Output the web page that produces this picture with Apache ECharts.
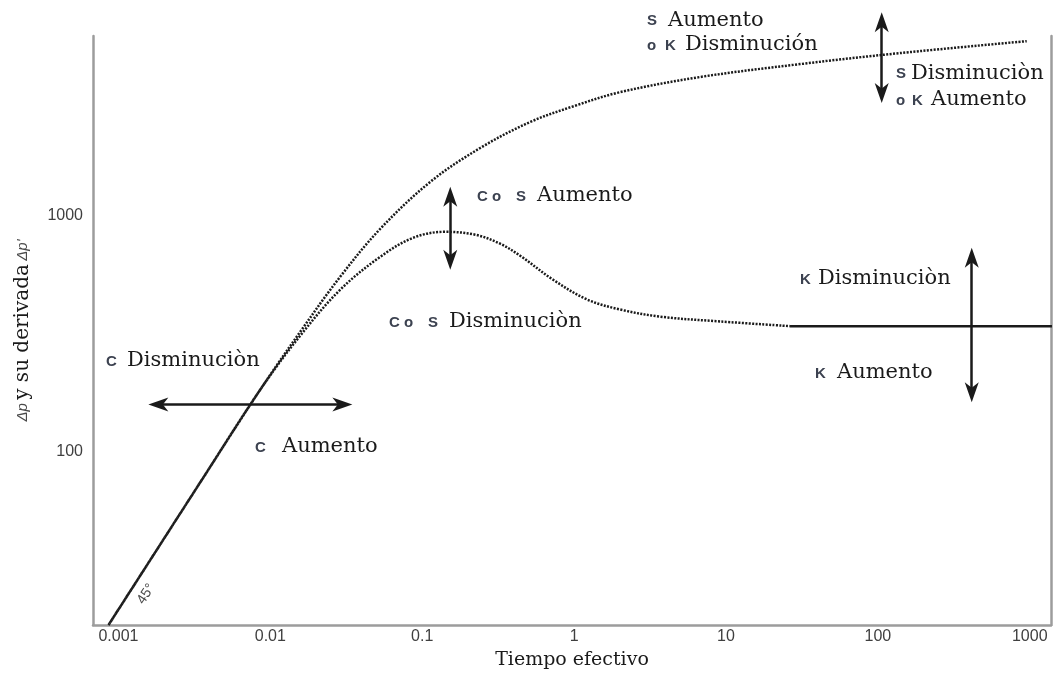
<!DOCTYPE html>
<html>
<head>
<meta charset="utf-8">
<script src="https://cdn.jsdelivr.net/npm/echarts@6/dist/echarts.min.js"></script>
<style>
  html, body { margin: 0; padding: 0; background: #ffffff; }
  #chart { width: 1054px; height: 675px; }
</style>
</head>
<body>
<div id="chart"></div>
<script>
// Log-log diagnostic plot: pressure change and its derivative versus effective time

// Axis ticks
const xTickValues = [0.001, 0.01, 0.1, 1, 10, 100, 1000];
const xTickLabels = ['0.001', '0.01', '0.1', '1', '10', '100', '1000'];
const yTickValues = [100, 1000];
const yTickLabels = ['100', '1000'];

// Axis ranges
const xRange = [0.00068, 1380];
const yRange = [18.3, 5800];

// Pressure change Δp
const pressureTime  = [0.00086, 0.00346, 0.0086, 0.01575, 0.0289, 0.053, 0.113, 0.241, 0.514, 1.0, 2.01, 6.74, 30.7, 139.6, 955];
const pressureValue = [18.3, 73.9, 183, 322, 552, 881, 1393, 1941, 2502, 2924, 3350, 3883, 4406, 4907, 5516];

// Pressure derivative Δp'
const derivTime  = [0.00086, 0.00346, 0.0086, 0.01575, 0.0289, 0.053, 0.0873, 0.141, 0.2233, 0.326, 0.441, 0.728, 1.22, 2.01, 3.68, 9.14, 26.4];
const derivValue = [18.3, 73.9, 183, 310, 486, 670, 807, 855, 831, 761, 677, 535, 441, 400, 373, 356, 340];

// Radial-flow plateau of the derivative
const plateauTime  = [26.4, 1400];
const plateauValue = [340, 340];

// Double-headed arrows (start and end of each shaft)
const arrowTimeA  = [0.001832, 0.153, 106, 415];
const arrowValueA = [158, 1205, 6637, 664];
const arrowTimeB  = [0.0298, 0.153, 106, 415];
const arrowValueB = [158, 651, 3320, 178];

const pairs = (xs, ys) => xs.map((x, i) => [x, ys[i]]);

function tickText(v, values, labels) {
  const lv = Math.log10(v);
  for (let i = 0; i < values.length; i++) {
    if (Math.abs(Math.log10(values[i]) - lv) < 1e-6) return labels[i];
  }
  return '';
}

const AXIS_COLOR = '#9c9c9c';
const INK = '#1a1a1a';
const SERIF = 'DejaVu Serif';
const SANS = 'Liberation Sans';
// slim arrowhead, padded to a square box so it keeps its proportions
const ARROW = 'path://M-10,0 M0,0 L7,20 L0,14.5 L-7,20 Z M10,20';

// Annotation words and the small parameter letters beside them
const words = [
  ['Aumento', 668, 21], ['Disminución', 685, 45],
  ['Disminuciòn', 911, 74], ['Aumento', 931, 100],
  ['Aumento', 537, 196], ['Disminuciòn', 449, 322],
  ['Disminuciòn', 127, 361], ['Aumento', 282, 447],
  ['Disminuciòn', 818, 279], ['Aumento', 837, 373]
];
const letters = [
  ['S', 647, 21], ['o', 647, 46], ['K', 665, 46],
  ['S', 896, 74], ['o', 896, 101], ['K', 912, 101],
  ['C o', 477, 197], ['S', 516, 197],
  ['C o', 389, 323], ['S', 428, 323],
  ['C', 106, 362], ['C', 255, 448],
  ['K', 800, 280], ['K', 815, 374]
];

const graphics = [];
words.forEach(([t, x, y]) => graphics.push({
  type: 'text', x, y, silent: true,
  style: { text: t, fontFamily: SERIF, fontSize: 21, fill: INK, verticalAlign: 'middle', align: 'left' }
}));
letters.forEach(([t, x, y]) => graphics.push({
  type: 'text', x, y, silent: true,
  style: { text: t, fontFamily: SANS, fontWeight: 'bold', fontSize: 15, fill: '#3c4250', verticalAlign: 'middle', align: 'left' }
}));
graphics.push({
  type: 'text', x: 146, y: 594, rotation: 0.99, silent: true,
  style: { text: '45°', fontFamily: SANS, fontSize: 14, fill: '#4a4a4a', align: 'center', verticalAlign: 'middle' }
});

const chart = echarts.init(document.getElementById('chart'), null, { renderer: 'canvas' });

const dotted = { color: INK, width: 2.5, type: [2, 1.4], cap: 'butt' };

chart.setOption({
  animation: false,
  backgroundColor: '#ffffff',
  grid: { left: 93, right: 3, top: 36, bottom: 49, containLabel: false },
  xAxis: {
    type: 'log', logBase: 10, min: xRange[0], max: xRange[1],
    axisLine: { show: true, lineStyle: { color: AXIS_COLOR, width: 2.5 } },
    axisTick: { show: false },
    splitLine: { show: false },
    axisLabel: {
      margin: 4, color: '#3f3f3f', fontFamily: SANS, fontSize: 16,
      showMinLabel: false, showMaxLabel: false,
      formatter: v => tickText(v, xTickValues, xTickLabels)
    },
    name: 'Tiempo efectivo', nameLocation: 'middle', nameGap: 26,
    nameTextStyle: { fontFamily: SERIF, fontSize: 19, color: INK }
  },
  yAxis: [{
    type: 'log', logBase: 10, min: yRange[0], max: yRange[1],
    axisLine: { show: true, lineStyle: { color: AXIS_COLOR, width: 2.5 } },
    axisTick: { show: false },
    splitLine: { show: false },
    axisLabel: {
      margin: 10, color: '#3f3f3f', fontFamily: SANS, fontSize: 16,
      showMinLabel: false, showMaxLabel: false,
      formatter: v => tickText(v, yTickValues, yTickLabels)
    },
    name: "{d|Δp} {t|y su derivada} {d|Δp'}", nameLocation: 'middle', nameGap: 60, nameRotate: 90,
    nameTextStyle: {
      rich: {
        d: { fontFamily: SANS, fontSize: 15, fontStyle: 'italic', color: '#4a4a4a' },
        t: { fontFamily: SERIF, fontSize: 20, color: INK }
      }
    }
  }, {
    type: 'log', logBase: 10, min: yRange[0], max: yRange[1], position: 'right',
    axisLine: { show: true, lineStyle: { color: AXIS_COLOR, width: 2.5 } },
    axisTick: { show: false }, splitLine: { show: false }, axisLabel: { show: false }
  }],
  series: [
    {
      name: 'Δp', type: 'line', data: pairs(pressureTime, pressureValue),
      smooth: 0.35, showSymbol: false, symbol: 'none', lineStyle: dotted, silent: true
    },
    {
      name: "Δp'", type: 'line', data: pairs(derivTime, derivValue),
      smooth: 0.35, showSymbol: false, symbol: 'none',
      lineStyle: Object.assign({}, dotted, { dashOffset: 1.7 }), silent: true
    },
    {
      name: 'plateau', type: 'line', data: pairs(plateauTime, plateauValue),
      showSymbol: false, symbol: 'none', clip: false,
      lineStyle: { color: INK, width: 2.5, type: 'solid' }, silent: true
    },
    {
      name: 'arrows', type: 'lines', coordinateSystem: 'cartesian2d', clip: false, silent: true,
      symbol: [ARROW, ARROW], symbolSize: 20,
      lineStyle: { color: INK, width: 2.5, opacity: 1, curveness: 0 },
      data: arrowTimeA.map((t, i) => ({
        coords: [[t, arrowValueA[i]], [arrowTimeB[i], arrowValueB[i]]]
      }))
    }
  ],
  graphic: graphics
});
</script>
</body>
</html>
